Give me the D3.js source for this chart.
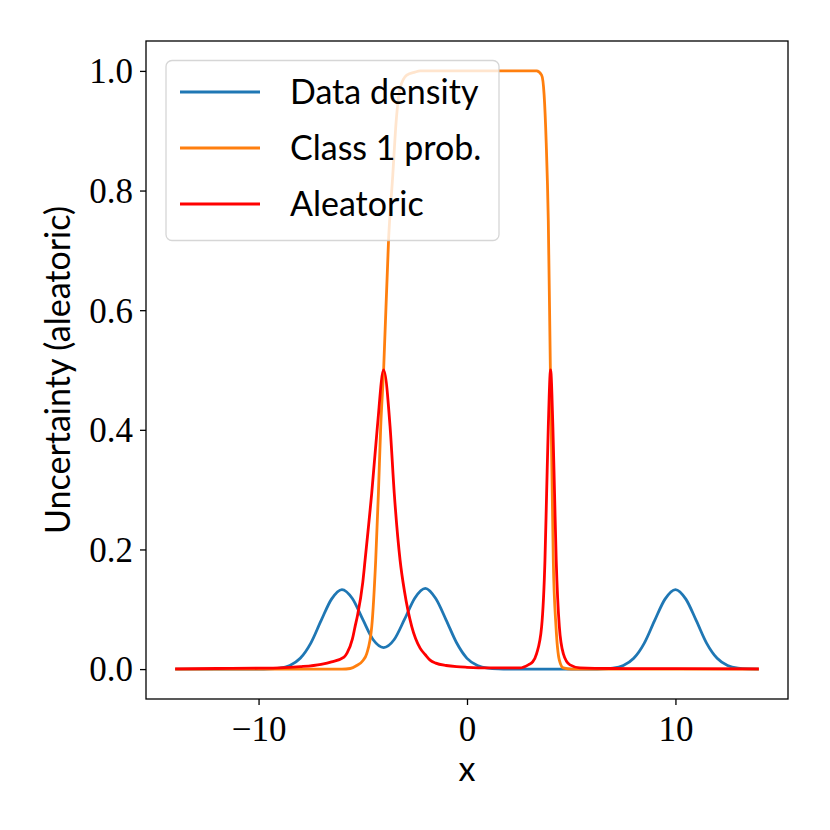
<!DOCTYPE html>
<html>
<head>
<meta charset="utf-8">
<script src="https://d3js.org/d3.v7.min.js"></script>
<style>
  body { margin: 0; background: #fff; }
</style>
</head>
<body>
<div id="chart"></div>
<script>
// series
var seriesNames = ["Data density", "Class 1 prob.", "Aleatoric"];
var seriesColors = ["#1f77b4", "#ff7f0e", "#ff0000"];

var densityX = [-14, -13.5, -13, -12.5, -12, -11.5, -11, -10.5, -10, -9.5, -9, -8.5, -8, -7.5, -7, -6.5, -6,
  -5.5, -5, -4.5, -4, -3.5, -3, -2.5, -2, -1.5, -1, -0.5, 0, 0.5, 1, 1.5, 2, 2.5, 3, 3.5, 4, 4.5, 5,
  5.5, 6, 6.5, 7, 7.5, 8, 8.5, 9, 9.5, 10, 10.5, 11, 11.5, 12, 12.5, 13, 13.5, 14];
var densityY = [0, 0, 0, 0, 0, 0, 0, 0, 0, 0.0003, 0.0015, 0.006, 0.018, 0.043, 0.081, 0.117, 0.133,
  0.118, 0.083, 0.049, 0.036, 0.049, 0.083, 0.119, 0.135, 0.118, 0.082, 0.044, 0.018, 0.006, 0.0015, 0.0003, 0, 0, 0, 0, 0, 0, 0,
  0, 0, 0.0003, 0.0015, 0.006, 0.018, 0.043, 0.081, 0.117, 0.133, 0.117, 0.081, 0.043, 0.018, 0.006, 0.0015, 0.0003, 0];

var probX = [-14, -10, -6, -5.6, -5.29, -5.0, -4.81, -4.57, -4.38, -4.25, -4.14, -4.0, -3.76, -3.56, -3.4, -3.21,
  -2.89, -2.5, -2.25, 0, 3.34, 3.58, 3.7, 3.8, 3.9, 4.0, 4.09, 4.14, 4.27, 4.43, 4.62, 5.0, 10, 14];
var probY = [0, 0, 0, 0.001, 0.006, 0.014, 0.026, 0.071, 0.182, 0.294, 0.405, 0.5, 0.72, 0.826, 0.915, 0.971,
  0.993, 0.998, 1, 1, 1, 0.993, 0.96, 0.88, 0.75, 0.5, 0.294, 0.182, 0.071, 0.015, 0.002, 0, 0, 0];

var aleaX = [-14, -12, -10, -9, -8, -7, -6.5, -5.9, -5.75, -5.5, -5.37, -5.25, -5.0, -4.89, -4.75, -4.57, -4.3, -4.0,
  -3.69, -3.49, -3.21, -3.0, -2.65, -2.25, -2.0, -1.77, -1.5, -1.0, -0.5, 0, 1, 2, 2.54, 2.94, 3.15, 3.34, 3.58,
  3.74, 3.82, 3.9, 4.01, 4.12, 4.2, 4.28, 4.43, 4.62, 4.94, 5.42, 7, 10, 14];
var aleaY = [0.0005, 0.001, 0.0015, 0.002, 0.004, 0.008, 0.012, 0.02, 0.027, 0.05, 0.071, 0.09, 0.145, 0.182, 0.23, 0.294, 0.405, 0.5,
  0.405, 0.294, 0.182, 0.13, 0.071, 0.035, 0.024, 0.015, 0.01, 0.006, 0.004, 0.003, 0.002, 0.002, 0.002, 0.007, 0.012, 0.026, 0.071,
  0.182, 0.294, 0.405, 0.5, 0.405, 0.294, 0.182, 0.071, 0.026, 0.007, 0.002, 0.001, 0.0007, 0.0005];

var xTicks = [-10, 0, 10];
var yTicks = [0, 0.2, 0.4, 0.6, 0.8, 1.0];

// figure box
var W = 830, H = 830;
var plot = {left: 146, right: 788, top: 41, bottom: 699};

var svg = d3.select("#chart")
  .append("svg")
    .attr("width", W)
    .attr("height", H);

var x = d3.scaleLinear()
  .domain([-15.4, 15.4])
  .range([plot.left, plot.right]);

var y = d3.scaleLinear()
  .domain([-0.05, 1.05])
  .range([plot.bottom, plot.top]);

var serif = "'Liberation Serif', 'DejaVu Serif', serif";
var sans = "Lato, 'Liberation Sans', sans-serif";

// lines
var series = [
  {xs: densityX, ys: densityY},
  {xs: probX, ys: probY},
  {xs: aleaX, ys: aleaY}
];

var line = d3.line()
  .x(function(d) { return x(d[0]); })
  .y(function(d) { return y(d[1]); })
  .curve(d3.curveMonotoneX);

series.forEach(function(s, i) {
  svg.append("path")
    .datum(s.xs.map(function(v, j) { return [v, s.ys[j]]; }))
    .attr("fill", "none")
    .attr("stroke", seriesColors[i])
    .attr("stroke-width", 2.8)
    .attr("stroke-linejoin", "round")
    .attr("d", line);
});

// X axis
var gx = svg.append("g")
  .attr("transform", "translate(0," + plot.bottom + ")")
  .call(d3.axisBottom(x).tickValues(xTicks).tickSize(6).tickFormat(d3.format("d")));
gx.select(".domain").remove();
gx.selectAll(".tick line").attr("stroke", "#000").attr("stroke-width", 1.3);
gx.selectAll(".tick text")
  .attr("y", 42)
  .attr("dy", null)
  .style("font-family", serif)
  .style("font-size", "35px")
  .attr("fill", "#000");

// Y axis
var gy = svg.append("g")
  .attr("transform", "translate(" + plot.left + ",0)")
  .call(d3.axisLeft(y).tickValues(yTicks).tickSize(6).tickFormat(d3.format(".1f")));
gy.select(".domain").remove();
gy.selectAll(".tick line").attr("stroke", "#000").attr("stroke-width", 1.3);
gy.selectAll(".tick text")
  .attr("x", -13)
  .attr("dy", "0.34em")
  .style("font-family", serif)
  .style("font-size", "35px")
  .attr("fill", "#000");

// frame
svg.append("rect")
  .attr("x", plot.left)
  .attr("y", plot.top)
  .attr("width", plot.right - plot.left)
  .attr("height", plot.bottom - plot.top)
  .attr("fill", "none")
  .attr("stroke", "#000")
  .attr("stroke-width", 1.3);

// axis labels
svg.append("text")
  .attr("x", (plot.left + plot.right) / 2)
  .attr("y", 781)
  .attr("text-anchor", "middle")
  .style("font-family", sans)
  .style("font-size", "34px")
  .text("x");

svg.append("text")
  .attr("transform", "translate(70," + ((plot.top + plot.bottom) / 2) + ") rotate(-90)")
  .attr("text-anchor", "middle")
  .style("font-family", sans)
  .style("font-size", "34px")
  .text("Uncertainty (aleatoric)");

// legend
var legend = svg.append("g");
legend.append("rect")
  .attr("x", 166)
  .attr("y", 60.5)
  .attr("width", 333)
  .attr("height", 180)
  .attr("rx", 6)
  .attr("fill", "#fff")
  .attr("fill-opacity", 0.8)
  .attr("stroke", "#cccccc")
  .attr("stroke-opacity", 0.8)
  .attr("stroke-width", 1.3);

seriesNames.forEach(function(name, i) {
  var ly = 92 + i * 56;
  legend.append("line")
    .attr("x1", 180).attr("x2", 260)
    .attr("y1", ly).attr("y2", ly)
    .attr("stroke", seriesColors[i])
    .attr("stroke-width", 2.8);
  legend.append("text")
    .attr("x", 290)
    .attr("y", ly + 12)
    .style("font-family", sans)
    .style("font-size", "34px")
    .text(name);
});
</script>
</body>
</html>
